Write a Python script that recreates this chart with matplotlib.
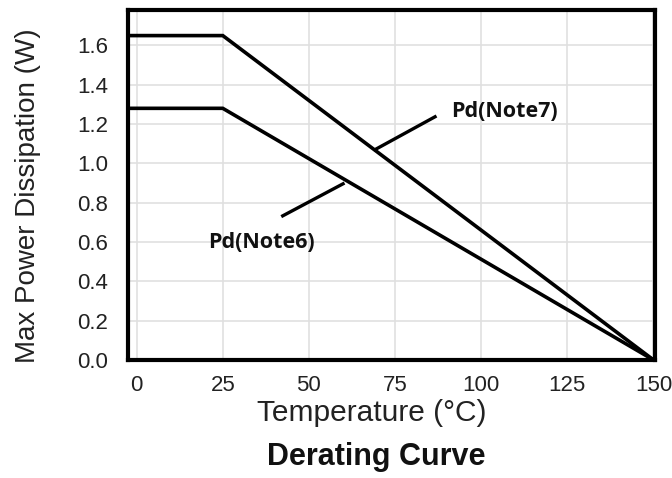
import numpy as np
import matplotlib.pyplot as plt

# derating data (curves start at the left edge of the plot)
temp_c = [-2.6, 25, 150]
pd_note7 = [1.65, 1.65, 0.0]
pd_note6 = [1.28, 1.28, 0.0]

x_ticks = [0, 25, 50, 75, 100, 125, 150]
y_ticks = [0.0, 0.2, 0.4, 0.6, 0.8, 1.0, 1.2, 1.4, 1.6]

# label leader lines (data coords) and label anchors
lead7_x, lead7_y = [69.2, 86.6], [1.07, 1.237]
lead6_x, lead6_y = [59.9, 42.4], [0.896, 0.733]
label7_xy = (91.3, 1.262)
label6_xy = (36.3, 0.595)

plt.rcParams['font.family'] = ['Liberation Sans', 'DejaVu Sans']

fig = plt.figure(figsize=(6.72, 4.78), dpi=100)
ax = fig.add_axes([0.19, 0.247, 0.785, 0.732])

ax.plot(temp_c, pd_note7, color="black", lw=2.6, solid_joinstyle="miter")
ax.plot(temp_c, pd_note6, color="black", lw=2.6, solid_joinstyle="miter")

ax.plot(lead7_x, lead7_y, color="black", lw=2.4)
ax.plot(lead6_x, lead6_y, color="black", lw=2.4)
ax.text(*label7_xy, "Pd(Note7)", ha="left", va="center", fontsize=15.5,
        fontweight="bold", family=["Open Sans", "DejaVu Sans"], color="#111111")
ax.text(*label6_xy, "Pd(Note6)", ha="center", va="center", fontsize=15.5,
        fontweight="bold", family=["Open Sans", "DejaVu Sans"], color="#111111")

ax.set_xlim(-2.6, 150.5)
ax.set_ylim(0, 1.78)
ax.set_xticks(x_ticks)
ax.set_yticks(y_ticks)
ax.set_yticklabels([f"{v:.1f}" for v in y_ticks])
ax.grid(True, color="#e0e0e0", lw=1.2)
ax.tick_params(length=0, labelsize=16, colors="#222222")
ax.tick_params(axis="x", pad=11)
ax.tick_params(axis="y", pad=14)

for s in ax.spines.values():
    s.set_linewidth(3)
    s.set_color("black")

ax.set_xlabel("Temperature (°C)", fontsize=21.5, color="#222222")
ax.xaxis.set_label_coords(0.463, -0.112)
ax.set_ylabel("Max Power Dissipation (W)", fontsize=20, color="#222222")
ax.yaxis.set_label_coords(-0.164, 0.47)
fig.text(0.56, 0.044, "Derating Curve", ha="center", va="center",
         fontsize=22, fontweight="bold", color="#111111")

fig.savefig("out.png", dpi=100)
